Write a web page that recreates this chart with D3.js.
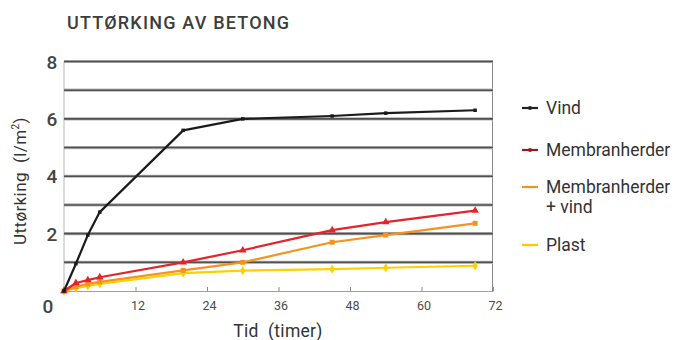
<!DOCTYPE html>
<html>
<head>
<meta charset="utf-8">
<script src="https://cdn.jsdelivr.net/npm/d3@7"></script>
<style>
  body { margin: 0; background: #fff; }
  svg { display: block; }
  text { font-family: "Roboto", "DejaVu Sans", sans-serif; }
</style>
</head>
<body>
<svg id="chart" width="682" height="340"></svg>
<script>
// Drying of concrete (l/m²) over time (hours)
const times = [0, 2, 4, 6, 20, 30, 45, 54, 69];
const vind = [0, 0.95, 1.95, 2.75, 5.6, 6.0, 6.1, 6.2, 6.3];
const membran = [0, 0.28, 0.38, 0.48, 1.0, 1.42, 2.12, 2.4, 2.8];
const membranVind = [0, 0.15, 0.25, 0.32, 0.72, 1.0, 1.7, 1.95, 2.36];
const plast = [0, 0.1, 0.18, 0.25, 0.62, 0.71, 0.76, 0.81, 0.88];
const xTicks = [12, 24, 36, 48, 60, 72];
const yTickLabels = [2, 4, 6, 8];
const gridValues = [1, 2, 3, 4, 5, 6, 7, 8];

const series = [
  { name: "Vind", values: vind, color: "#1b1b1b", legendColor: "#222", marker: "square", size: 3.5, dot: true },
  { name: "Membranherder", values: membran, color: "#e3242b", legendColor: "#8e1c1c", marker: "triangle", size: 5, dot: true },
  { name: "Membranherder + vind", values: membranVind, color: "#f39420", legendColor: "#f39420", marker: "square", size: 5, dot: false },
  { name: "Plast", values: plast, color: "#fdd000", legendColor: "#fdc800", marker: "diamond", size: 5, dot: false }
];

const svg = d3.select("#chart");
const x = d3.scaleLinear().domain([0, 72]).range([64, 493]);
const y = d3.scaleLinear().domain([0, 8]).range([291, 61.5]);

// Title
svg.append("text").attr("x", 67).attr("y", 29)
  .attr("font-size", 18).attr("font-weight", 500).attr("fill", "#3d3d3d")
  .attr("letter-spacing", 1.2)
  .text("UTTØRKING AV BETONG");

// Plot frame: light left edge, darker right edge
svg.append("line").attr("x1", x(0)).attr("x2", x(0)).attr("y1", y(8)).attr("y2", y(0))
  .attr("stroke", "#cfcfcf").attr("stroke-width", 1.5);
svg.append("line").attr("x1", x(72) - 0.5).attr("x2", x(72) - 0.5).attr("y1", y(8)).attr("y2", y(0))
  .attr("stroke", "#8a8a8a").attr("stroke-width", 1);

// Horizontal gridlines
svg.append("g").selectAll("line").data(gridValues).join("line")
  .attr("x1", x(0)).attr("x2", x(72))
  .attr("y1", d => y(d)).attr("y2", d => y(d))
  .attr("stroke", "#b5b5b5").attr("stroke-width", 3.2);
svg.append("g").selectAll("line").data(gridValues).join("line")
  .attr("x1", x(0)).attr("x2", x(72))
  .attr("y1", d => y(d)).attr("y2", d => y(d))
  .attr("stroke", "#505050").attr("stroke-width", 1.6);

// Bottom axis with inward ticks
const xAxis = d3.axisBottom(x).tickValues(xTicks).tickSizeInner(-4).tickSizeOuter(0).tickPadding(10);
const gx = svg.append("g").attr("transform", `translate(0,${y(0)})`).call(xAxis);
gx.select(".domain").attr("stroke", "#a0a0a0").attr("stroke-width", 1.2);
gx.selectAll(".tick line").attr("stroke", "#8a8a8a");
gx.selectAll(".tick text").attr("font-size", 12.5).attr("fill", "#4a4a4a")
  .attr("font-family", "Roboto, sans-serif").attr("dx", 2);

// Origin label
svg.append("text").attr("x", 48).attr("y", 313).attr("text-anchor", "middle")
  .attr("font-size", 19).attr("font-weight", 500).attr("fill", "#444").text("0");

// Y tick labels
svg.append("g").selectAll("text").data(yTickLabels).join("text")
  .attr("x", 52).attr("y", d => y(d) + 7).attr("text-anchor", "middle")
  .attr("font-size", 19).attr("font-weight", 500).attr("fill", "#444")
  .text(d => d);

// Axis titles
svg.append("text").attr("x", 278).attr("y", 337).attr("text-anchor", "middle")
  .attr("font-size", 17.5).attr("fill", "#333").attr("letter-spacing", 0.3)
  .attr("xml:space", "preserve").text("Tid  (timer)");

const yt = svg.append("text").attr("transform", "translate(26,181) rotate(-90)")
  .attr("text-anchor", "middle").attr("font-size", 17).attr("fill", "#333")
  .attr("letter-spacing", 0.4)
  .attr("xml:space", "preserve");
yt.append("tspan").text("Uttørking  (l/m");
yt.append("tspan").attr("font-size", 10).attr("dy", -7).text("2");
yt.append("tspan").attr("dy", 7).text(")");

// Series lines and markers
const line = d3.line().x((d, i) => x(times[i])).y(d => y(d));
const symbolType = { square: d3.symbolSquare, triangle: d3.symbolTriangle, diamond: d3.symbolDiamond };

[...series].reverse().forEach(s => {
  const g = svg.append("g");
  g.append("path").datum(s.values).attr("d", line)
    .attr("fill", "none").attr("stroke", s.color).attr("stroke-width", 2.2)
    .attr("stroke-linejoin", "round");
  g.selectAll("path.mk").data(s.values).join("path").attr("class", "mk")
    .attr("transform", (d, i) => `translate(${x(times[i])},${y(d)})`)
    .attr("d", d3.symbol().type(symbolType[s.marker]).size(s.size * s.size))
    .attr("fill", s.color);
});

// Legend
const legendRows = [
  { s: series[0], y: 108, lines: ["Vind"] },
  { s: series[1], y: 150, lines: ["Membranherder"] },
  { s: series[2], y: 187, lines: ["Membranherder", "+ vind"] },
  { s: series[3], y: 245, lines: ["Plast"] }
];
const lg = svg.append("g");
legendRows.forEach(r => {
  lg.append("line").attr("x1", 522).attr("x2", 538).attr("y1", r.y).attr("y2", r.y)
    .attr("stroke", r.s.legendColor).attr("stroke-width", 2.2);
  if (r.s.dot) {
    lg.append("circle").attr("cx", 530).attr("cy", r.y).attr("r", 2).attr("fill", r.s.legendColor);
  }
  r.lines.forEach((t, k) => {
    lg.append("text").attr("x", 546).attr("y", r.y + 6 + k * 20)
      .attr("font-size", 17.5).attr("fill", "#333")
      .attr("font-family", "'Open Sans', sans-serif")
      .text(t);
  });
});
</script>
</body>
</html>
